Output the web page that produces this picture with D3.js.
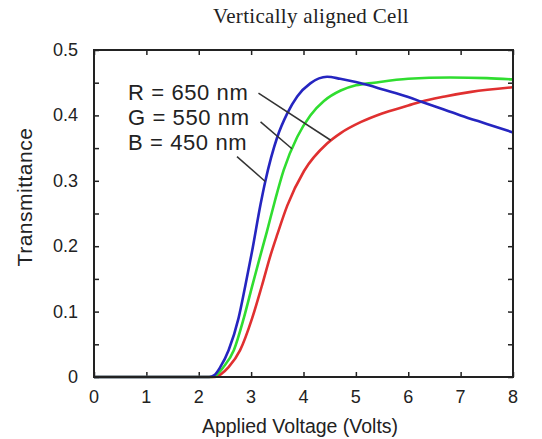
<!DOCTYPE html>
<html>
<head>
<meta charset="utf-8">
<script src="https://cdn.jsdelivr.net/npm/d3@7"></script>
<style>
  body { margin: 0; background: #fff; }
  text { font-family: "Liberation Sans", Arial, sans-serif; fill: #222; }
</style>
</head>
<body>
<script>
// curve data: [volts, transmittance]
var blue = [[0,0],[2.2,0],[2.3,0.003],[2.41,0.015],[2.57,0.041],[2.76,0.09],[2.89,0.14],[3.02,0.193],[3.18,0.264],[3.27,0.299],[3.5,0.367],[3.69,0.403],[3.88,0.429],[4.13,0.449],[4.45,0.459],[4.7,0.456],[5.0,0.451],[5.25,0.446],[5.5,0.440],[6.0,0.428],[6.25,0.421],[6.5,0.414],[7.0,0.400],[7.5,0.387],[8,0.374]];
var green = [[0,0],[2.25,0],[2.35,0.004],[2.47,0.015],[2.67,0.041],[2.86,0.09],[3.02,0.139],[3.15,0.178],[3.3,0.222],[3.45,0.268],[3.62,0.316],[3.88,0.367],[4.13,0.400],[4.39,0.422],[4.71,0.438],[5.0,0.446],[5.35,0.450],[6.0,0.456],[6.8,0.458],[7.5,0.457],[8,0.455]];
var red = [[0,0],[2.3,0],[2.42,0.004],[2.57,0.015],[2.79,0.041],[3.02,0.09],[3.2,0.138],[3.37,0.186],[3.5,0.218],[3.69,0.262],[4.01,0.315],[4.45,0.357],[4.71,0.373],[5.1,0.390],[5.5,0.403],[6.0,0.415],[6.24,0.421],[6.7,0.429],[7.2,0.436],[8,0.443]];

var seriesNames = ["R = 650 nm", "G = 550 nm", "B = 450 nm"];
var seriesColors = ["#e03030", "#30dd30", "#2525c0"];
var xTicks = [0,1,2,3,4,5,6,7,8];
var yTicks = [0,0.1,0.2,0.3,0.4,0.5];
var yMinorTicks = [0,0.05,0.1,0.15,0.2,0.25,0.3,0.35,0.4,0.45,0.5];
// label anchor [x, y] and leader line [from, to] in data units
var labelPos = [[0.65,0.436],[0.65,0.398],[0.65,0.359]];
var leaders = [[[3.14,0.434],[4.52,0.362]],[[3.18,0.390],[3.78,0.349]],[[2.73,0.337],[3.27,0.299]]];

var W = 542, H = 439;
var margin = {top: 50, right: 29, bottom: 62, left: 94};
var width = W - margin.left - margin.right;
var height = H - margin.top - margin.bottom;

var svg = d3.select("body").append("svg")
    .attr("width", W).attr("height", H);
var g = svg.append("g")
    .attr("transform", "translate(" + margin.left + "," + margin.top + ")");

var x = d3.scaleLinear().domain([0, 8]).range([0, width]);
var y = d3.scaleLinear().domain([0, 0.5]).range([height, 0]);

// title
svg.append("text")
    .attr("x", 311).attr("y", 23)
    .attr("text-anchor", "middle")
    .style("font-family", "'Liberation Serif', 'Times New Roman', serif")
    .style("font-size", "21px")
    .style("letter-spacing", "0.3px")
    .text("Vertically aligned Cell");

// inward ticks on all four sides
var tickLen = 5;
g.append("g").attr("transform", "translate(0," + height + ")")
    .call(d3.axisBottom(x).tickValues(xTicks).tickSize(-tickLen).tickFormat(""));
g.append("g")
    .call(d3.axisTop(x).tickValues(xTicks).tickSize(-tickLen).tickFormat(""));
g.append("g")
    .call(d3.axisLeft(y).tickValues(yMinorTicks).tickSize(-tickLen).tickFormat(""));
g.append("g").attr("transform", "translate(" + width + ",0)")
    .call(d3.axisRight(y).tickValues(yMinorTicks).tickSize(-tickLen).tickFormat(""));
g.selectAll(".domain").remove();
g.selectAll(".tick line").attr("stroke", "#222").attr("stroke-width", 1.5);

// tick labels
g.selectAll(".xlab").data(xTicks).enter().append("text")
    .attr("x", function(d) { return x(d); })
    .attr("y", height + 26)
    .attr("text-anchor", "middle")
    .style("font-size", "18px")
    .text(function(d) { return d; });
g.selectAll(".ylab").data(yTicks).enter().append("text")
    .attr("x", -16)
    .attr("y", function(d) { return y(d) + 6; })
    .attr("text-anchor", "end")
    .style("font-size", "18px")
    .text(function(d) { return d; });

// axis titles
svg.append("text")
    .attr("x", 300).attr("y", 433)
    .attr("text-anchor", "middle")
    .style("font-size", "19.5px")
    .text("Applied Voltage (Volts)");
svg.append("text")
    .attr("transform", "translate(32,197) rotate(-90)")
    .attr("text-anchor", "middle")
    .style("font-size", "21px")
    .style("letter-spacing", "0.5px")
    .text("Transmittance");

// curves
var line = d3.line()
    .x(function(d) { return x(d[0]); })
    .y(function(d) { return y(d[1]); })
    .curve(d3.curveMonotoneX);

[red, green, blue].forEach(function(s, i) {
    g.append("path")
        .datum(s)
        .attr("fill", "none")
        .attr("stroke", seriesColors[i])
        .attr("stroke-width", 2.6)
        .attr("d", line);
});

// frame
g.append("rect")
    .attr("width", width).attr("height", height)
    .attr("fill", "none").attr("stroke", "#222").attr("stroke-width", 2);

// labels and leader lines
seriesNames.forEach(function(name, i) {
    g.append("text")
        .attr("x", x(labelPos[i][0]))
        .attr("y", y(labelPos[i][1]) + 8)
        .style("font-size", "22px")
        .style("letter-spacing", "0.6px")
        .text(name);
    g.append("line")
        .attr("x1", x(leaders[i][0][0])).attr("y1", y(leaders[i][0][1]))
        .attr("x2", x(leaders[i][1][0])).attr("y2", y(leaders[i][1][1]))
        .attr("stroke", "#333").attr("stroke-width", 1.5);
});
</script>
</body>
</html>
